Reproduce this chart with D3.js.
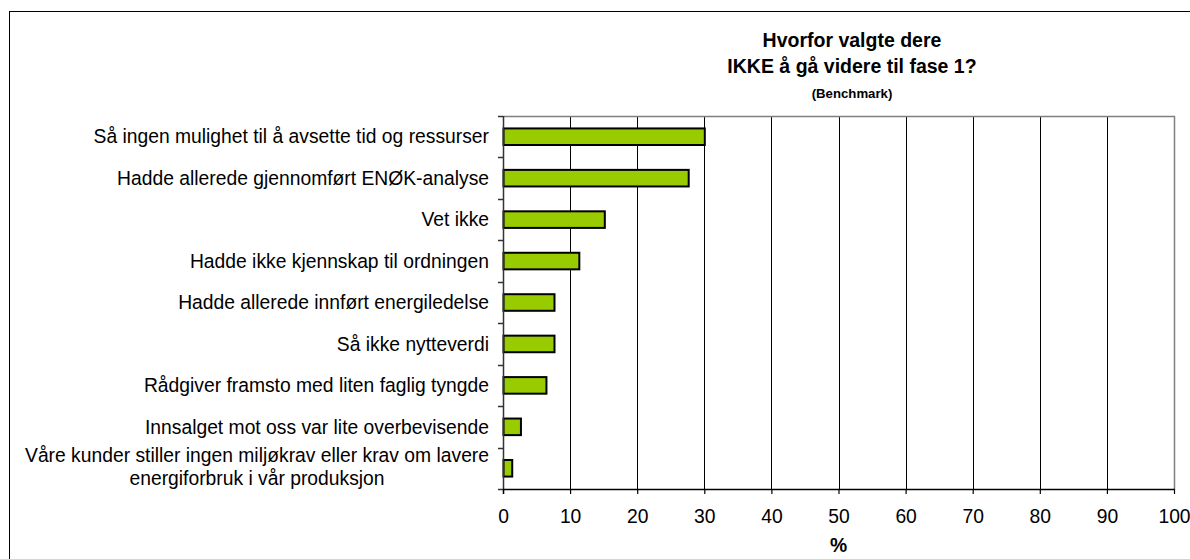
<!DOCTYPE html>
<html>
<head>
<meta charset="utf-8">
<script src="https://cdn.jsdelivr.net/npm/d3@7"></script>
<style>
  html, body { margin: 0; padding: 0; background: #fff; }
  svg { display: block; font-family: "Liberation Sans", Arial, sans-serif; }
</style>
</head>
<body>
<svg id="chart" width="1190" height="559"></svg>
<script>
const categories = [
  "Så ingen mulighet til å avsette tid og ressurser",
  "Hadde allerede gjennomført ENØK-analyse",
  "Vet ikke",
  "Hadde ikke kjennskap til ordningen",
  "Hadde allerede innført energiledelse",
  "Så ikke nytteverdi",
  "Rådgiver framsto med liten faglig tyngde",
  "Innsalget mot oss var lite overbevisende",
  "Våre kunder stiller ingen miljøkrav eller krav om lavere\nenergiforbruk i vår produksjon"
];
const values = [30.0, 27.6, 15.1, 11.3, 7.6, 7.6, 6.4, 2.6, 1.3];
const xTicks = [0, 10, 20, 30, 40, 50, 60, 70, 80, 90, 100];
const titleLines = ["Hvorfor valgte dere", "IKKE å gå videre til fase 1?"];
const subtitle = "(Benchmark)";
const xTitle = "%";

const FS = 19.3;
const svg = d3.select("#chart");
const pLeft = 503, pRight = 1174, pTop = 116, pBottom = 489;

// outer frame
svg.append("rect")
  .attr("x", 9.5).attr("y", 11.5)
  .attr("width", 1200).attr("height", 600)
  .attr("fill", "none").attr("stroke", "#000").attr("stroke-width", 1);

const x = d3.scaleLinear().domain([0, 100]).range([pLeft, pRight]);
const yOuter = d3.scaleBand().domain(categories).range([pTop, pBottom]).padding(0);
const y = d3.scaleBand().domain(categories).range([pTop, pBottom])
  .paddingInner(0.6).paddingOuter(0.3);

// gridlines
svg.append("g").selectAll("line")
  .data(xTicks.filter(t => t > 0 && t < 100))
  .join("line")
  .attr("x1", d => Math.round(x(d)) + 0.5).attr("x2", d => Math.round(x(d)) + 0.5)
  .attr("y1", pTop).attr("y2", pBottom)
  .attr("stroke", "#000").attr("stroke-width", 1);

// plot frame top & right (gray)
svg.append("line")
  .attr("x1", pLeft).attr("x2", pRight + 1).attr("y1", pTop + 0.5).attr("y2", pTop + 0.5)
  .attr("stroke", "#808080").attr("stroke-width", 1.5);
svg.append("line")
  .attr("x1", Math.round(x(100)) + 0.5).attr("x2", Math.round(x(100)) + 0.5)
  .attr("y1", pTop).attr("y2", pBottom)
  .attr("stroke", "#808080").attr("stroke-width", 1.5);

// bars
svg.append("g").selectAll("rect")
  .data(categories.map((c, i) => ({c, v: values[i]})))
  .join("rect")
  .attr("x", x(0) + 0.5)
  .attr("y", d => y(d.c))
  .attr("width", d => x(d.v) - x(0))
  .attr("height", y.bandwidth())
  .attr("fill", "#99CC00")
  .attr("stroke", "#000").attr("stroke-width", 2);

// y axis line & ticks
const yAxisG = svg.append("g");
yAxisG.append("line")
  .attr("x1", pLeft + 0.5).attr("x2", pLeft + 0.5)
  .attr("y1", pTop).attr("y2", pBottom + 5)
  .attr("stroke", "#333").attr("stroke-width", 1.5);
const boundaries = categories.map(c => yOuter(c)).concat([pBottom]);
yAxisG.selectAll("line.tick")
  .data(boundaries)
  .join("line").attr("class", "tick")
  .attr("x1", pLeft - 5).attr("x2", pLeft)
  .attr("y1", d => Math.round(d) + 0.5).attr("y2", d => Math.round(d) + 0.5)
  .attr("stroke", "#333").attr("stroke-width", 1.5);

// category labels
const labelG = svg.append("g").attr("font-size", FS).attr("fill", "#000");
categories.forEach(c => {
  const lines = c.split("\n");
  const cy = yOuter(c) + yOuter.bandwidth() / 2;
  const lh = 23;
  if (lines.length === 1) {
    labelG.append("text")
      .attr("x", 489).attr("y", cy)
      .attr("dy", "0.35em")
      .attr("text-anchor", "end")
      .text(c);
  } else {
    const t = labelG.append("text").attr("text-anchor", "middle");
    const spans = lines.map((l, i) => t.append("tspan")
      .attr("y", cy - 1.5 + (i - (lines.length - 1) / 2) * lh)
      .attr("dy", "0.35em").text(l));
    const w = Math.max(...spans.map(s => s.node().getComputedTextLength()));
    const cx = 489 - w / 2;
    spans.forEach(s => s.attr("x", cx));
  }
});

// x axis
const xAxis = d3.axisBottom(x).tickValues(xTicks).tickSize(5).tickPadding(15);
const xg = svg.append("g").attr("transform", `translate(0,${pBottom})`).call(xAxis);
xg.select(".domain").remove();
xg.append("line").attr("x1", pLeft).attr("x2", pRight + 1)
  .attr("y1", 0.5).attr("y2", 0.5).attr("stroke", "#000").attr("stroke-width", 1.5);
xg.selectAll(".tick line").attr("stroke", "#000").attr("stroke-width", 1.2);
xg.selectAll(".tick text").attr("font-size", FS).attr("fill", "#000")
  .attr("font-family", "Liberation Sans, Arial, sans-serif");

// x title
svg.append("text").attr("x", x(50)).attr("y", 552)
  .attr("text-anchor", "middle").attr("font-size", FS).attr("font-weight", "bold")
  .text(xTitle);

// title
const tcx = 852;
svg.append("text").attr("x", tcx).attr("y", 47).attr("text-anchor", "middle")
  .attr("font-size", 19.5).attr("font-weight", "bold").text(titleLines[0]);
svg.append("text").attr("x", tcx).attr("y", 73).attr("text-anchor", "middle")
  .attr("font-size", 19.5).attr("font-weight", "bold").text(titleLines[1]);
svg.append("text").attr("x", tcx).attr("y", 98).attr("text-anchor", "middle")
  .attr("font-size", 13.2).attr("font-weight", "bold").text(subtitle);
</script>
</body>
</html>
